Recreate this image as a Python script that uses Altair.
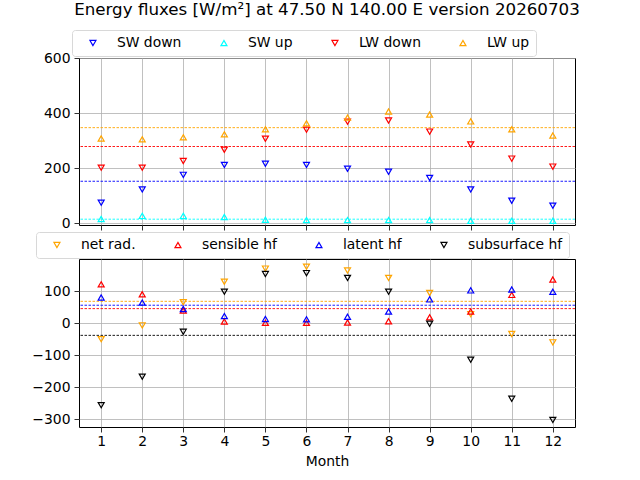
import altair as alt
import pandas as pd

months = list(range(1, 13))

# Top panel (radiation)
top_names = ["SW down", "SW up", "LW down", "LW up"]
top_colors = ["#0000ff", "#00ffff", "#ff0000", "#ffa500"]
top_shapes = ["triangle-down", "triangle-up", "triangle-down", "triangle-up"]
sw_down = [75, 123, 176, 212, 216, 212, 198, 187, 165, 123, 82, 64]
sw_up = [16, 27, 27, 23, 13, 12, 12, 12, 12, 9, 9, 9]
lw_down = [202, 202, 226, 267, 307, 340, 369, 373, 333, 286, 235, 206]
lw_up = [308, 305, 312, 323, 341, 363, 384, 406, 395, 370, 341, 319]

# Bottom panel (surface fluxes)
bot_names = ["net rad.", "sensible hf", "latent hf", "subsurface hf"]
bot_colors = ["#ffa500", "#ff0000", "#0000ff", "#000000"]
bot_shapes = ["triangle-down", "triangle-up", "triangle-up", "triangle-down"]
net_rad = [-50, -7, 65, 129, 170, 176, 164, 141, 94, 28, -34, -60]
sensible = [121, 90, 39, 5, 1, 1, 2, 6, 18, 36, 88, 136]
latent = [80, 64, 44, 22, 13, 12, 20, 36, 74, 102, 105, 98]
subsurface = [-256, -167, -27, 98, 153, 156, 141, 98, -2, -114, -236, -302]

top_ticks = [0, 200, 400, 600]
bot_ticks = [-300, -200, -100, 0, 100]

title_text = "Energy fluxes [W/m\u00b2] at 47.50 N 140.00 E version 20260703"
FONT = "DejaVu Sans"


def long_df(names, series):
    rows = []
    for n, vals in zip(names, series):
        for m, v in zip(months, vals):
            rows.append({"month": m, "value": v, "series": n})
    return pd.DataFrame(rows)


df_top = long_df(top_names, [sw_down, sw_up, lw_down, lw_up])
df_bot = long_df(bot_names, [net_rad, sensible, latent, subsurface])

xscale = alt.Scale(domain=[0.46, 12.54], nice=False, zero=False)


def panel(df, names, colors, shapes, ydomain, yticks, show_x, legend_x, legend_y):
    yscale = alt.Scale(domain=ydomain, nice=False, zero=False)
    yaxis = alt.Axis(values=yticks, title=None, grid=True)
    if show_x:
        xaxis = alt.Axis(values=months, title="Month", grid=True, format="d", labelPadding=2)
    else:
        xaxis = alt.Axis(values=months, title=None, labels=False, grid=True)
    leg = alt.Legend(
        orient="none", legendX=legend_x, legendY=legend_y, direction="horizontal",
        columns=4, title=None,
    )
    cscale = alt.Scale(domain=names, range=colors)
    base = alt.Chart(df)
    rules = base.mark_rule(strokeDash=[2.5, 1.5], strokeWidth=0.9).encode(
        y=alt.Y("mean(value):Q", scale=yscale, axis=yaxis),
        color=alt.Color("series:N", scale=cscale, legend=leg),
    )
    pts = base.mark_point(filled=False, size=36, strokeWidth=1.2, opacity=1).encode(
        x=alt.X("month:Q", scale=xscale, axis=xaxis),
        y=alt.Y("value:Q", scale=yscale, axis=yaxis),
        color=alt.Color("series:N", scale=cscale, legend=leg),
        shape=alt.Shape("series:N", scale=alt.Scale(domain=names, range=shapes), legend=leg),
    )
    return alt.layer(rules, pts).properties(width=496, height=167)


top = panel(df_top, top_names, top_colors, top_shapes, [-6, 600], top_ticks, False, -7, -28).properties(
    title=alt.TitleParams(title_text, fontSize=16.7, font=FONT, fontWeight="normal",
                          anchor="middle", frame="group", offset=11, color="black")
)
bot = panel(df_bot, bot_names, bot_colors, bot_shapes, [-324, 200], bot_ticks, True, -43, -27).properties(height=168)

chart = (
    alt.vconcat(top, bot, spacing=0)
    .resolve_scale(color="independent", shape="independent", x="independent", y="independent")
    .resolve_legend(color="independent", shape="independent")
    .properties(padding={"left": 31, "top": 1, "right": 5, "bottom": 5})
    .configure_view(stroke="black", strokeWidth=1)
    .configure_axis(
        domain=False, gridColor="#b0b0b0", gridWidth=0.8, tickColor="black", tickSize=5,
        tickWidth=0.8, labelFont=FONT, labelFontSize=13.9, labelColor="black", labelPadding=4,
        titleFont=FONT, titleFontSize=13.9, titleFontWeight="normal", titleColor="black", titlePadding=7,
    )
    .configure_legend(
        labelFont=FONT, labelFontSize=13.9, labelColor="black", strokeColor="#d8d8d8",
        fillColor="rgba(255,255,255,0.8)", cornerRadius=3, padding=6, symbolOffset=8,
        symbolSize=36, symbolStrokeWidth=1.2, labelOffset=17, columnPadding=27, rowPadding=0,
        labelLimit=0,
    )
)

chart.save("out.html", embed_options={"renderer": "svg", "actions": False})
